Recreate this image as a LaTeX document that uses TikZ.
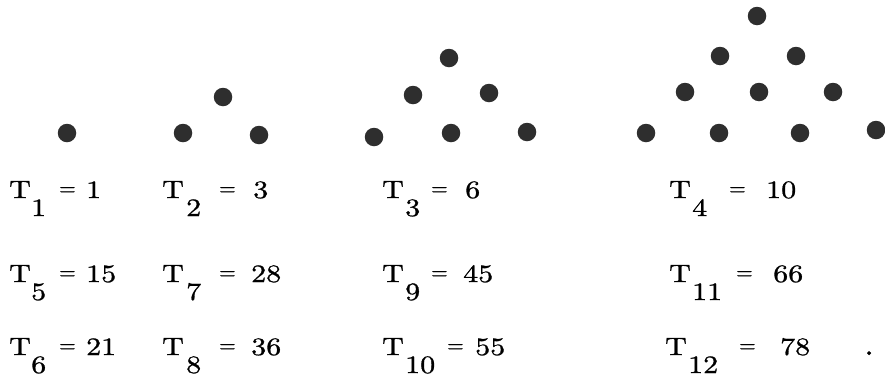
\documentclass[tikz,border=0pt]{standalone}
\usepackage{fontspec}
\usepackage{graphicx}
\newfontfamily\tfont{lmroman10-regular.otf}[FakeBold=0.9]
\tikzset{
  dot/.style={circle, fill=black!82, inner sep=0pt, minimum size=18.5pt},
  txt/.style={anchor=base west, inner sep=0pt, font=\tfont\fontsize{25}{30}\selectfont},
}
\newcommand\widetxt[1]{\scalebox{1.2}[1]{#1}}
\newcommand\tentry[8]{%
  \node[txt] (#1T) at (#2,#6) {\widetxt{T}};
  \node[txt] (#1s) at (#3,#6+18) {\widetxt{#7}};
  \node[txt] (#1e) at (#4,#6-3) {\scalebox{0.85}{=}};
  \node[txt] (#1n) at (#5,#6) {\widetxt{#8}};
}
\begin{document}
\begin{tikzpicture}[x=1pt,y=-1pt]
\useasboundingbox (0,0) rectangle (885,381);
% T1
\node[dot] (d1a) at (67,133) {};
% T2
\node[dot] (d2a) at (223,97) {};
\node[dot] (d2b) at (183,133) {};
\node[dot] (d2c) at (259,135) {};
% T3
\node[dot] (d3a) at (449,58) {};
\node[dot] (d3b) at (413,95) {};
\node[dot] (d3c) at (489,93) {};
\node[dot] (d3d) at (374,137) {};
\node[dot] (d3e) at (451,133) {};
\node[dot] (d3f) at (527,132) {};
% T4
\node[dot] (d4a) at (757,16) {};
\node[dot] (d4b) at (720,56) {};
\node[dot] (d4c) at (796,56) {};
\node[dot] (d4d) at (685,92) {};
\node[dot] (d4e) at (759,92) {};
\node[dot] (d4f) at (833,92) {};
\node[dot] (d4g) at (646,133) {};
\node[dot] (d4h) at (719,133) {};
\node[dot] (d4i) at (800,133) {};
\node[dot] (d4j) at (876,130) {};
% row 1
\tentry{a1}{9}{31}{59}{86}{198}{1}{1}
\tentry{a2}{162}{186}{219}{253}{198}{2}{3}
\tentry{a3}{382}{405}{431}{465}{198}{3}{6}
\tentry{a4}{669}{692}{729}{766}{198}{4}{10}
% row 2
\tentry{b5}{9}{31}{59}{86}{282}{5}{15}
\tentry{b7}{162}{186}{219}{251}{282}{7}{28}
\tentry{b9}{382}{405}{431}{463}{282}{9}{45}
\tentry{b11}{669}{692}{736}{773}{282}{11}{66}
% row 3
\tentry{c6}{9}{31}{59}{86}{355}{6}{21}
\tentry{c8}{162}{186}{219}{251}{355}{8}{36}
\tentry{c10}{382}{405}{447}{475}{355}{10}{55}
\tentry{c12}{665}{688}{739}{780}{355}{12}{78}
\node[txt] (per) at (864,355) {\scalebox{1.4}{.}};
\end{tikzpicture}
\end{document}
